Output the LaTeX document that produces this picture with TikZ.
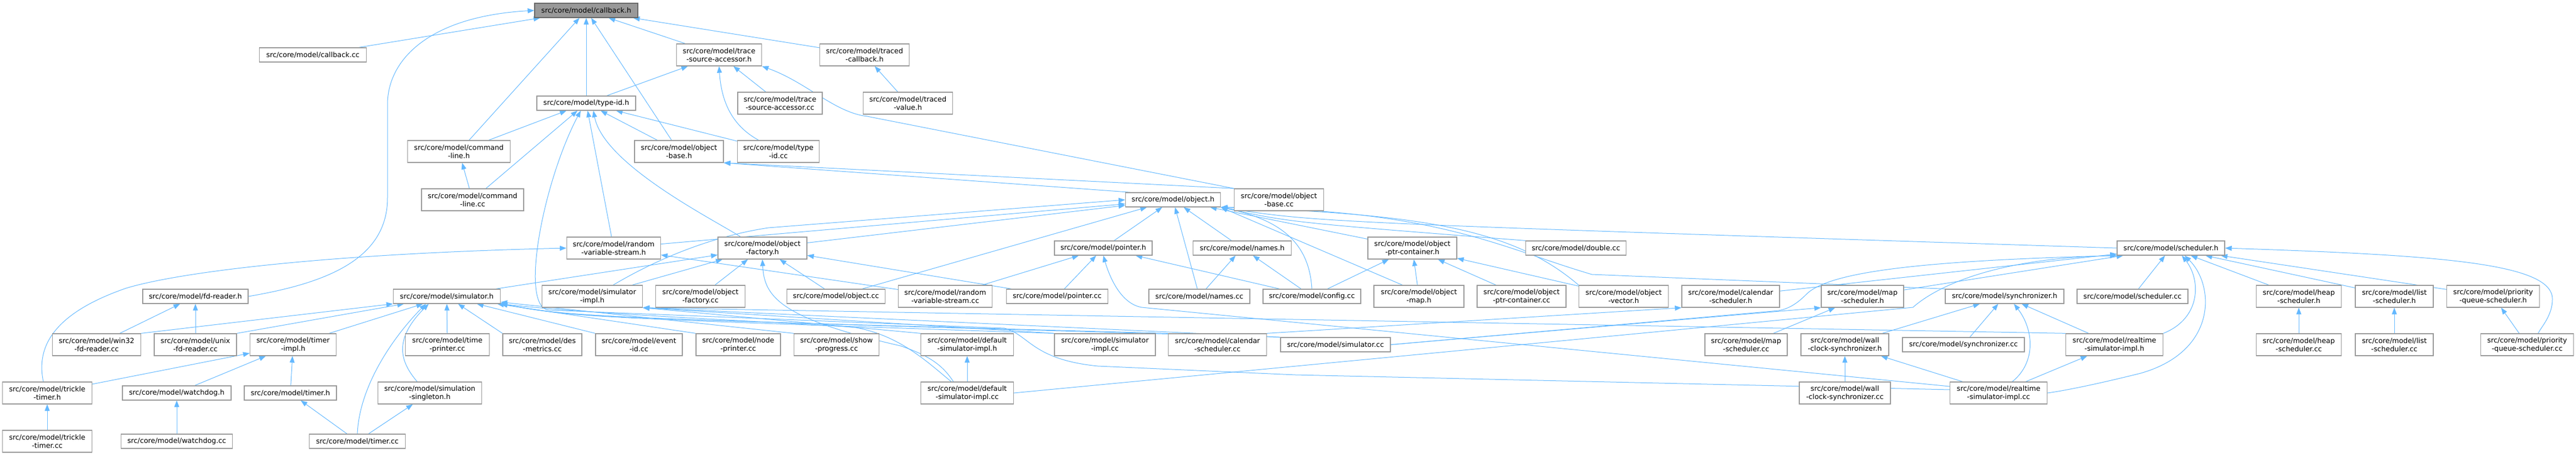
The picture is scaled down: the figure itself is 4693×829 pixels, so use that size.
\documentclass[tikz,border=0pt]{standalone}
\usepackage{fontspec}
\setmainfont{DejaVu Sans}
\usepackage{tikz}
\usetikzlibrary{arrows.meta}
\pgfdeclarelayer{bg}
\pgfsetlayers{bg,main}
\definecolor{edgeblue}{HTML}{63B8FF}
\definecolor{boxgray}{HTML}{999999}
\definecolor{curgray}{HTML}{666666}
\tikzset{
  file/.style={draw=boxgray, line width=1.3pt, fill=white, align=center,
    minimum height=26pt, inner xsep=2pt, inner ysep=1pt,
    font=\fontsize{12.8}{15}\selectfont},
  file2/.style={file, minimum height=40pt},
  cur/.style={file, draw=curgray, fill=boxgray},
  dep/.style={draw=edgeblue, line width=1pt, {Triangle[length=12pt,width=9pt]}-}
}

\begin{document}
\begin{tikzpicture}[x=1pt, y=-1pt]
\useasboundingbox (0,0) rectangle (4693,829);

\node[cur, minimum width=188pt] (cbh) at (1068,19) {src/core/model/callback.h};

\node[file, minimum width=195pt] (cbcc) at (570,100) {src/core/model/callback.cc};
\node[file2, minimum width=155pt] (tsah) at (1310,100) {src/core/model/trace\\-source-accessor.h};
\node[file2, minimum width=163pt] (tcbh) at (1575,100) {src/core/model/traced\\-callback.h};

\node[file, minimum width=180pt] (tidh) at (1068,188) {src/core/model/type-id.h};
\node[file2, minimum width=154pt] (tsacc) at (1421,188) {src/core/model/trace\\-source-accessor.cc};
\node[file2, minimum width=163pt] (tvh) at (1654,188) {src/core/model/traced\\-value.h};

\node[file2, minimum width=187pt] (clh) at (836,276) {src/core/model/command\\-line.h};
\node[file2, minimum width=162pt] (obh) at (1237,276) {src/core/model/object\\-base.h};
\node[file2, minimum width=149pt] (tidcc) at (1418,276) {src/core/model/type\\-id.cc};

\node[file2, minimum width=186pt] (clcc) at (861,364) {src/core/model/command\\-line.cc};
\node[file, minimum width=173pt] (objh) at (2137,364) {src/core/model/object.h};
\node[file2, minimum width=163pt] (obcc) at (2330,364) {src/core/model/object\\-base.cc};

\node[file2, minimum width=171pt] (rvsh) at (1118,452) {src/core/model/random\\-variable-stream.h};
\node[file2, minimum width=162pt] (ofh) at (1389,452) {src/core/model/object\\-factory.h};
\node[file, minimum width=178pt] (ptrh) at (2010,452) {src/core/model/pointer.h};
\node[file, minimum width=179pt] (namh) at (2263,452) {src/core/model/names.h};
\node[file2, minimum width=162pt] (opch) at (2573,452) {src/core/model/object\\-ptr-container.h};
\node[file, minimum width=183pt] (dblcc) at (2871,452) {src/core/model/double.cc};
\node[file, minimum width=196pt] (schh) at (3955,452) {src/core/model/scheduler.h};

\node[file, minimum width=192pt] (fdh) at (356,540) {src/core/model/fd-reader.h};
\node[file, minimum width=195pt] (simh) at (814,540) {src/core/model/simulator.h};
\node[file2, minimum width=183pt] (simih) at (1079,540) {src/core/model/simulator\\-impl.h};
\node[file2, minimum width=163pt] (ofcc) at (1276,540) {src/core/model/object\\-factory.cc};
\node[file, minimum width=179pt] (objcc) at (1523,540) {src/core/model/object.cc};
\node[file2, minimum width=171pt] (rvscc) at (1722,540) {src/core/model/random\\-variable-stream.cc};
\node[file, minimum width=185pt] (ptrcc) at (1926,540) {src/core/model/pointer.cc};
\node[file, minimum width=184pt] (namcc) at (2185,540) {src/core/model/names.cc};
\node[file, minimum width=178pt] (cfgcc) at (2390,540) {src/core/model/config.cc};
\node[file2, minimum width=164pt] (omaph) at (2585,540) {src/core/model/object\\-map.h};
\node[file2, minimum width=162pt] (opccc) at (2772,540) {src/core/model/object\\-ptr-container.cc};
\node[file2, minimum width=163pt] (ovech) at (2958,540) {src/core/model/object\\-vector.h};
\node[file2, minimum width=178pt] (calh) at (3153,540) {src/core/model/calendar\\-scheduler.h};
\node[file2, minimum width=150pt] (msch) at (3393,540) {src/core/model/map\\-scheduler.h};
\node[file, minimum width=216pt] (synh) at (3652,540) {src/core/model/synchronizer.h};
\node[file, minimum width=202pt] (schcc) at (3885,540) {src/core/model/scheduler.cc};
\node[file2, minimum width=155pt] (hsch) at (4188,540) {src/core/model/heap\\-scheduler.h};
\node[file2, minimum width=142pt] (lsch) at (4362,540) {src/core/model/list\\-scheduler.h};
\node[file2, minimum width=169pt] (pqsh) at (4542,540) {src/core/model/priority\\-queue-scheduler.h};

\node[file2, minimum width=161pt] (w32cc) at (176,628) {src/core/model/win32\\-fd-reader.cc};
\node[file2, minimum width=150pt] (uxcc) at (356,628) {src/core/model/unix\\-fd-reader.cc};
\node[file2, minimum width=157pt] (tmih) at (534,628) {src/core/model/timer\\-impl.h};
\node[file2, minimum width=153pt] (tpcc) at (815,628) {src/core/model/time\\-printer.cc};
\node[file2, minimum width=144pt] (dmcc) at (988,628) {src/core/model/des\\-metrics.cc};
\node[file2, minimum width=158pt] (eicc) at (1164,628) {src/core/model/event\\-id.cc};
\node[file2, minimum width=154pt] (npcc) at (1345,628) {src/core/model/node\\-printer.cc};
\node[file2, minimum width=155pt] (spcc) at (1524,628) {src/core/model/show\\-progress.cc};
\node[file2, minimum width=169pt] (dsih) at (1762,628) {src/core/model/default\\-simulator-impl.h};
\node[file2, minimum width=184pt] (simicc) at (2013,628) {src/core/model/simulator\\-impl.cc};
\node[file2, minimum width=179pt] (calcc) at (2218,628) {src/core/model/calendar\\-scheduler.cc};
\node[file, minimum width=200pt] (simcc) at (2433,628) {src/core/model/simulator.cc};
\node[file2, minimum width=150pt] (mscc) at (3181,628) {src/core/model/map\\-scheduler.cc};
\node[file2, minimum width=160pt] (wcsh) at (3361,628) {src/core/model/wall\\-clock-synchronizer.h};
\node[file, minimum width=222pt] (syncc) at (3577,628) {src/core/model/synchronizer.cc};
\node[file2, minimum width=177pt] (rtih) at (3852,628) {src/core/model/realtime\\-simulator-impl.h};
\node[file2, minimum width=155pt] (hscc) at (4188,628) {src/core/model/heap\\-scheduler.cc};
\node[file2, minimum width=142pt] (lscc) at (4362,628) {src/core/model/list\\-scheduler.cc};
\node[file2, minimum width=169pt] (pqscc) at (4604,628) {src/core/model/priority\\-queue-scheduler.cc};

\node[file2, minimum width=163pt] (tth) at (86,716) {src/core/model/trickle\\-timer.h};
\node[file, minimum width=198pt] (wdh) at (322,716) {src/core/model/watchdog.h};
\node[file, minimum width=168pt] (tmh) at (529,716) {src/core/model/timer.h};
\node[file2, minimum width=189pt] (ssh) at (783,716) {src/core/model/simulation\\-singleton.h};
\node[file2, minimum width=169pt] (dsicc) at (1762,716) {src/core/model/default\\-simulator-impl.cc};
\node[file2, minimum width=166pt] (wcscc) at (3361,716) {src/core/model/wall\\-clock-synchronizer.cc};
\node[file2, minimum width=177pt] (rticc) at (3641,716) {src/core/model/realtime\\-simulator-impl.cc};

\node[file2, minimum width=163pt] (ttcc) at (86,804) {src/core/model/trickle\\-timer.cc};
\node[file, minimum width=203pt] (wdcc) at (322,804) {src/core/model/watchdog.cc};
\node[file, minimum width=175pt] (tmcc) at (651,804) {src/core/model/timer.cc};

\begin{pgfonlayer}{bg}
\draw[dep] (cbh) -- (cbcc);
\draw[dep] (cbh.west) .. controls (780,30) and (706,110) .. (706,190) -- (706,360) .. controls (706,470) and (600,515) .. (fdh.east);
\draw[dep] (cbh) -- (clh);
\draw[dep] (cbh) -- (tidh);
\draw[dep] (cbh) -- (obh);
\draw[dep] (cbh) -- (tsah);
\draw[dep] (cbh) -- (tcbh);
\draw[dep] (tcbh) -- (tvh);
\draw[dep] (tsah) -- (tidh);
\draw[dep] (tsah) -- (tsacc);
\draw[dep] (tsah.south) .. controls (1315,200) and (1345,235) .. ([xshift=-36pt]tidcc.north);
\draw[dep] (tsah.south east) .. controls (1470,150) and (1520,205) .. (1580,212) -- (obcc.north west);
\draw[dep] (tidh) -- (clh);
\draw[dep] (tidh) -- (clcc);
\draw[dep] (tidh) -- (rvsh);
\draw[dep] ([xshift=13pt]tidh.south) .. controls (1100,300) and (1300,400) .. ([xshift=-40pt]ofh.north);
\draw[dep] (tidh) -- (obh);
\draw[dep] (tidh) -- (tidcc);
\draw[dep] ([xshift=-10pt]tidh.south) .. controls (990,330) and (945,560) .. (1000,565) -- (1830,598) .. controls (1875,610) and (1880,655) .. (2000,667) -- (2360,683) -- ([yshift=6pt]rticc.west);
\draw[dep] (clh) -- (clcc);
\draw[dep] (obh.south east) -- (obcc.north west);
\draw[dep] (obh.south east) -- (objh.170);
\draw[dep] (objh) -- (rvsh);
\draw[dep] (objh.west) -- (1400,415) .. controls (1300,430) and (1200,470) .. ([xshift=38pt]simih.north);
\draw[dep] (objh) -- (ofh);
\draw[dep] (objh) -- (objcc);
\draw[dep] (objh) -- (ptrh);
\draw[dep] (objh) -- (namh);
\draw[dep] (objh) -- (namcc);
\draw[dep] (objh) -- (opch);
\draw[dep] (objh.south east) .. controls (2330,400) and (2385,440) .. (cfgcc.north);
\draw[dep] (objh.south east) .. controls (2350,405) .. (dblcc.north west);
\draw[dep] (objh.south east) -- ([xshift=-30pt]omaph.north);
\draw[dep] (objh.south east) .. controls (2600,390) and (2760,420) .. (ovech.north west);
\draw[dep] (objh.south east) .. controls (2620,382) and (2730,450) .. (2900,500) -- (synh.north west);
\draw[dep] (objh.south east) .. controls (2400,405) .. (schh.west);
\draw[dep] (ofh) -- (simh);
\draw[dep] (ofh) -- (simih);
\draw[dep] (ofh) -- (ofcc);
\draw[dep] (ofh) -- (objcc);
\draw[dep] (ofh) -- (ptrcc);
\draw[dep] (ofh.south) .. controls (1392,540) and (1420,580) .. (1640,630) .. controls (1700,650) and (1720,670) .. ([xshift=-25pt]dsicc.north);
\draw[dep] (rvsh.west) .. controls (600,462) and (330,495) .. (230,525) .. controls (100,570) and (65,630) .. ([xshift=-7pt]tth.north);
\draw[dep] (rvsh) -- (rvscc);
\draw[dep] (ptrh) -- (rvscc);
\draw[dep] (ptrh) -- (ptrcc);
\draw[dep] (ptrh) -- (cfgcc);
\draw[dep] (ptrh.south) .. controls (2020,500) and (2040,553) .. (2080,560) -- ([yshift=12pt]rticc.west);
\draw[dep] (namh) -- (namcc);
\draw[dep] (namh) -- (cfgcc);
\draw[dep] (opch) -- (cfgcc);
\draw[dep] (opch) -- (omaph);
\draw[dep] (opch) -- (opccc);
\draw[dep] (opch) -- (ovech);
\draw[dep] (fdh) -- (w32cc);
\draw[dep] (fdh) -- (uxcc);
\draw[dep] (simh.south west) -- (w32cc.north east);
\draw[dep] ([xshift=20pt]simh.south west) -- (uxcc.north east);
\draw[dep] (simh) -- (tmih);
\draw[dep] ([xshift=-38pt]simh.south) .. controls (720,610) and (655,700) .. (tmcc.north);
\draw[dep] ([xshift=-33pt]simh.south) .. controls (715,620) and (730,660) .. ([xshift=-23pt]ssh.north);
\draw[dep] (simh) -- (tpcc);
\draw[dep] (simh) -- (dmcc.north west);
\draw[dep] (simh) -- (eicc.north west);
\draw[dep] (simh) -- (npcc.north west);
\draw[dep] (simh) -- (spcc.north west);
\draw[dep] (simh.south east) .. controls (1050,578) .. (simicc.north west);
\draw[dep] (simh.south east) .. controls (1050,578) .. (calcc.north west);
\draw[dep] (simh.south east) .. controls (1050,578) .. (simcc.north west);
\draw[dep] (simh.south east) .. controls (1100,575) and (1500,590) .. (1560,597) .. controls (1640,612) and (1690,660) .. ([xshift=-29pt]dsicc.north);
\draw[dep] (simih.south east) -- (dsih.north west);
\draw[dep] (simih.south east) -- (simicc.north west);
\draw[dep] (simih.south east) -- (simcc.north west);
\draw[dep] (simih.south east) -- (rtih.north west);
\draw[dep] (schh) -- (calh);
\draw[dep] (schh) -- (msch);
\draw[dep] (schh.south west) .. controls (3500,475) and (3330,495) .. (3290,537) .. controls (3270,557) and (3255,563) .. (3240,566) -- (simcc.east);
\draw[dep] (schh.south west) .. controls (3640,470) and (3530,520) .. (3485,560) -- (dsicc.east);
\draw[dep] (schh) -- (schcc);
\draw[dep] ([xshift=20pt]schh.south) .. controls (4010,510) and (4010,580) .. (rtih.north east);
\draw[dep] ([xshift=25pt]schh.south) .. controls (4035,520) and (4040,640) .. (3900,680) .. controls (3820,700) and (3760,712) .. (rticc.east);
\draw[dep] (schh) -- (hsch);
\draw[dep] (schh) -- (lsch);
\draw[dep] (schh) -- (pqsh);
\draw[dep] (schh.east) .. controls (4450,465) and (4650,480) .. (4650,545) .. controls (4650,575) and (4630,595) .. ([xshift=20pt]pqscc.north);
\draw[dep] (msch) -- (mscc);
\draw[dep] (msch.south west) -- (simcc.east);
\draw[dep] (calh.south west) -- (calcc.north east);
\draw[dep] (synh) -- (wcsh);
\draw[dep] (synh) -- (syncc);
\draw[dep] (synh) -- (rtih);
\draw[dep] ([xshift=17pt]synh.south) .. controls (3705,600) and (3710,660) .. ([xshift=25pt]rticc.north);
\draw[dep] (wcsh) -- (wcscc);
\draw[dep] (wcsh) -- (rticc);
\draw[dep] (rtih) -- (rticc);
\draw[dep] (hsch) -- (hscc);
\draw[dep] (lsch) -- (lscc);
\draw[dep] (pqsh) -- (pqscc);
\draw[dep] (dsih) -- (dsicc);
\draw[dep] (tmih) -- (tth);
\draw[dep] (tmih) -- (wdh);
\draw[dep] (tmih) -- (tmh);
\draw[dep] (tth) -- (ttcc);
\draw[dep] (wdh) -- (wdcc);
\draw[dep] (tmh) -- (tmcc);
\draw[dep] (ssh) -- (tmcc);
\end{pgfonlayer}
\end{tikzpicture}
\end{document}
